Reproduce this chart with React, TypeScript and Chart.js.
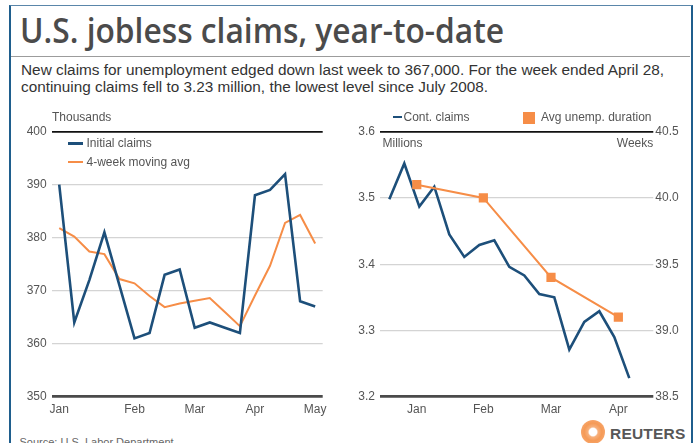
import React, { useEffect, useLayoutEffect, useRef } from "react";
import { Chart, registerables } from "chart.js";

Chart.register(...registerables);

// ---------- Data ----------
const leftWeekLabels = ["Jan", "", "", "", "", "Feb", "", "", "", "Mar", "", "", "", "Apr", "", "", "", "May"];
const initialClaims = [390, 364, 372, 381, 371, 361, 362, 373, 374, 363, 364, 363, 362, 388, 389, 392, 368, 367];
const movingAverage = [381.8, 380.2, 377.4, 376.9, 372.2, 371.4, 369.0, 366.9, 367.6, 368.1, 368.6, 366.0, 363.3, 369.1, 374.7, 382.8, 384.3, 378.9];

const continuingClaims = [3.498, 3.552, 3.487, 3.517, 3.445, 3.411, 3.429, 3.436, 3.396, 3.383, 3.355, 3.35, 3.271, 3.313, 3.329, 3.29, 3.228];
const durationMonths = ["Jan", "Feb", "Mar", "Apr"];
// month mid-points, measured in weeks from the first continuing-claims week
const durationMonthWeek = [1.83, 6.27, 10.78, 15.27];
const avgDuration = [40.1, 40.0, 39.4, 39.1];

const leftYTicks = { min: 350, max: 400, step: 10 };
const rightYTicks = { min: 3.2, max: 3.6, step: 0.1 };
const rightY2Ticks = { min: 38.5, max: 40.5, step: 0.5 };

// ---------- Styles ----------
const BLUE = "#1d4f7a";
const ORANGE = "#f68d47";
const TICK_COLOR = "#555555";
const SANS = "'Liberation Sans', Arial, Helvetica, sans-serif";

function gridColor(min: number, max: number) {
  return (ctx: any) => {
    const v = ctx.tick ? ctx.tick.value : NaN;
    if (Math.abs(v - max) < 1e-6) return "#111111";
    if (Math.abs(v - min) < 1e-6) return "#4a4a4a";
    return "#d4d4d4";
  };
}
function gridWidth(min: number, max: number) {
  return (ctx: any) => {
    const v = ctx.tick ? ctx.tick.value : NaN;
    if (Math.abs(v - max) < 1e-6) return 1.7;
    if (Math.abs(v - min) < 1e-6) return 2.7;
    return 1.2;
  };
}

const tickFont = { family: SANS, size: 12 };

function LeftChart() {
  const ref = useRef<HTMLCanvasElement>(null);
  useEffect(() => {
    const chart = new Chart(ref.current as HTMLCanvasElement, {
      type: "line",
      data: {
        labels: leftWeekLabels,
        datasets: [
          {
            label: "Initial claims",
            data: initialClaims,
            borderColor: BLUE,
            borderWidth: 2.6,
            pointRadius: 0,
            tension: 0,
            borderJoinStyle: "miter",
          },
          {
            label: "4-week moving avg",
            data: movingAverage,
            borderColor: ORANGE,
            borderWidth: 2,
            pointRadius: 0,
            tension: 0,
          },
        ],
      },
      options: {
        responsive: false,
        animation: false,
        layout: { padding: { top: 31.7, right: 17.3, left: 0, bottom: 0 } },
        plugins: { legend: { display: false }, tooltip: { enabled: false } },
        scales: {
          x: {
            type: "category",
            offset: true,
            grid: { display: false },
            border: { display: false },
            ticks: { autoSkip: false, maxRotation: 0, padding: -2, color: TICK_COLOR, font: tickFont },
            afterFit: (s: any) => {
              s.height = 23.3;
            },
          },
          y: {
            min: leftYTicks.min,
            max: leftYTicks.max,
            ticks: { stepSize: leftYTicks.step, padding: 5, color: TICK_COLOR, font: tickFont },
            grid: {
              drawTicks: false,
              color: gridColor(leftYTicks.min, leftYTicks.max),
              lineWidth: gridWidth(leftYTicks.min, leftYTicks.max),
            },
            border: { display: false },
            afterFit: (s: any) => {
              s.width = 41.7;
            },
          },
        },
      } as any,
    });
    return () => chart.destroy();
  }, []);
  return <canvas ref={ref} width={330} height={320} style={{ position: "absolute", left: 10, top: 100 }} />;
}

function RightChart() {
  const ref = useRef<HTMLCanvasElement>(null);
  useEffect(() => {
    const chart = new Chart(ref.current as HTMLCanvasElement, {
      type: "line",
      data: {
        datasets: [
          {
            label: "Avg unemp. duration",
            data: durationMonthWeek.map((x, i) => ({ x, y: avgDuration[i] })),
            yAxisID: "y2",
            borderColor: ORANGE,
            borderWidth: 2,
            pointStyle: "rect",
            pointRadius: 6.5,
            pointBackgroundColor: ORANGE,
            pointBorderWidth: 0,
            tension: 0,
          },
          {
            label: "Cont. claims",
            data: continuingClaims.map((y, i) => ({ x: i, y })),
            yAxisID: "y",
            borderColor: BLUE,
            borderWidth: 2.6,
            pointRadius: 0,
            tension: 0,
          },
        ],
      },
      options: {
        responsive: false,
        animation: false,
        layout: { padding: { top: 31.7, right: 0, left: 0, bottom: 0 } },
        plugins: { legend: { display: false }, tooltip: { enabled: false } },
        scales: {
          x: {
            type: "linear",
            min: -0.62,
            max: 17.6,
            grid: { display: false },
            border: { display: false },
            afterBuildTicks: (s: any) => {
              s.ticks = durationMonthWeek.map((v) => ({ value: v }));
            },
            ticks: {
              autoSkip: false,
              maxRotation: 0,
              padding: -2,
              color: TICK_COLOR,
              font: tickFont,
              callback: (_v: any, i: number) => durationMonths[i],
            },
            afterFit: (s: any) => {
              s.height = 23.3;
            },
          },
          y: {
            position: "left",
            min: rightYTicks.min,
            max: rightYTicks.max,
            ticks: {
              stepSize: rightYTicks.step,
              padding: 5,
              color: TICK_COLOR,
              font: tickFont,
              callback: (v: any) => Number(v).toFixed(1),
            },
            grid: {
              drawTicks: false,
              color: gridColor(rightYTicks.min, rightYTicks.max),
              lineWidth: gridWidth(rightYTicks.min, rightYTicks.max),
            },
            border: { display: false },
            afterFit: (s: any) => {
              s.width = 35;
            },
          },
          y2: {
            position: "right",
            min: rightY2Ticks.min,
            max: rightY2Ticks.max,
            ticks: {
              stepSize: rightY2Ticks.step,
              padding: 2,
              color: TICK_COLOR,
              font: tickFont,
              callback: (v: any) => Number(v).toFixed(1),
            },
            grid: { display: false, drawTicks: false },
            border: { display: false },
            afterFit: (s: any) => {
              s.width = 40.7;
            },
          },
        },
      } as any,
    });
    return () => chart.destroy();
  }, []);
  return <canvas ref={ref} width={349} height={320} style={{ position: "absolute", left: 345, top: 100 }} />;
}

function FitText({ text, width, style }: { text: string; width: number; style: React.CSSProperties }) {
  const ref = useRef<HTMLSpanElement>(null);
  useLayoutEffect(() => {
    const el = ref.current;
    if (!el) return;
    el.style.transform = "none";
    const w = el.getBoundingClientRect().width;
    if (w > 0) el.style.transform = `scaleX(${width / w})`;
  }, [text, width]);
  return (
    <span
      ref={ref}
      style={{ position: "absolute", whiteSpace: "nowrap", transformOrigin: "0 0", display: "inline-block", ...style }}
    >
      {text}
    </span>
  );
}

const label12: React.CSSProperties = {
  position: "absolute",
  fontFamily: SANS,
  fontSize: 12,
  lineHeight: "14px",
  color: TICK_COLOR,
  whiteSpace: "nowrap",
};

export default function App() {
  return (
    <div style={{ position: "absolute", left: 0, top: 0, width: 694, height: 443, overflow: "hidden", background: "#fff" }}>
      <LeftChart />
      <RightChart />

      {/* Title */}
      <FitText
        text="U.S. jobless claims, year-to-date"
        width={484}
        style={{
          left: 20,
          top: 12,
          fontFamily: "'Open Sans', 'Noto Sans', sans-serif",
          fontWeight: 600,
          fontSize: 35,
          lineHeight: "35px",
          color: "#4b4b4b",
        }}
      />
      <div style={{ position: "absolute", left: 11, top: 56, width: 679, height: 1.3, background: "#9c9c9c" }} />

      {/* Description */}
      <FitText
        text="New claims for unemployment edged down last week to 367,000. For the week ended April 28,"
        width={643}
        style={{ left: 21, top: 63, fontFamily: SANS, fontSize: 14, lineHeight: "14px", color: "#333" }}
      />
      <FitText
        text="continuing claims fell to 3.23 million, the lowest level since July 2008."
        width={467}
        style={{ left: 21, top: 79.7, fontFamily: SANS, fontSize: 14, lineHeight: "14px", color: "#333" }}
      />

      {/* Left chart labels and legend */}
      <div style={{ ...label12, left: 52, top: 109.8 }}>Thousands</div>
      <div style={{ position: "absolute", left: 68, top: 142, width: 15, height: 2.6, background: BLUE }} />
      <div style={{ ...label12, left: 86.5, top: 136.4 }}>Initial claims</div>
      <div style={{ position: "absolute", left: 68, top: 161.3, width: 15, height: 2, background: ORANGE }} />
      <div style={{ ...label12, left: 86.5, top: 155.4 }}>4-week moving avg</div>

      {/* Right chart labels and legend */}
      <div style={{ position: "absolute", left: 393, top: 115.5, width: 9, height: 2.6, background: BLUE }} />
      <div style={{ ...label12, left: 403.5, top: 109.8 }}>Cont. claims</div>
      <div style={{ position: "absolute", left: 523, top: 111.5, width: 12, height: 12, background: ORANGE }} />
      <div style={{ ...label12, left: 541, top: 109.8 }}>Avg unemp. duration</div>
      <div style={{ ...label12, left: 382.5, top: 136.4 }}>Millions</div>
      <div style={{ ...label12, left: 553.3, width: 100, textAlign: "right", top: 136.4 }}>Weeks</div>

      {/* Source */}
      <div style={{ ...label12, left: 19.5, top: 434.5, fontSize: 11, color: "#666" }}>Source: U.S. Labor Department</div>

      {/* Reuters logo */}
      <div
        style={{
          position: "absolute",
          left: 580.5,
          top: 420,
          width: 24,
          height: 24,
          borderRadius: "50%",
          background:
            "radial-gradient(circle at 50% 50%, #fff 0 22%, #f7b07c 30%, #f59a56 52%, #f7a468 72%, rgba(248,180,130,0.6) 90%, rgba(255,255,255,0) 100%)",
        }}
      />
      <div
        style={{
          position: "absolute",
          left: 610,
          top: 424.5,
          fontFamily: SANS,
          fontWeight: 700,
          fontSize: 15.5,
          lineHeight: "17px",
          letterSpacing: 0.2,
          color: "#575757",
          whiteSpace: "nowrap",
        }}
      >
        REUTERS
      </div>

      {/* Frame */}
      <div
        style={{
          position: "absolute",
          left: 8.5,
          top: 4.8,
          width: 684,
          height: 500,
          boxSizing: "border-box",
          borderLeft: "2.5px solid #1f5e8d",
          borderRight: "2.5px solid #1f5e8d",
          borderTop: "1.5px solid #5a86aa",
          pointerEvents: "none",
        }}
      />
    </div>
  );
}
